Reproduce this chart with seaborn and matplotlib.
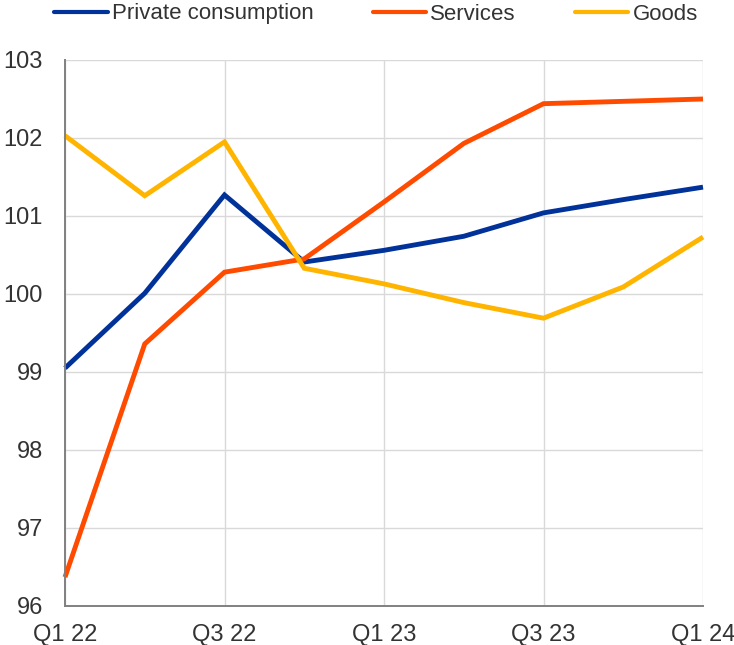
import matplotlib
matplotlib.use("Agg")
import matplotlib.pyplot as plt
import seaborn as sns
import pandas as pd
from matplotlib.lines import Line2D

quarters = ["Q1 22", "Q2 22", "Q3 22", "Q4 22", "Q1 23", "Q2 23", "Q3 23", "Q4 23", "Q1 24"]
private_consumption = [99.05, 100.01, 101.27, 100.41, 100.56, 100.74, 101.04, 101.21, 101.37]
services = [96.37, 99.36, 100.28, 100.45, 101.18, 101.93, 102.44, 102.47, 102.50]
goods = [102.03, 101.26, 101.95, 100.33, 100.13, 99.89, 99.69, 100.09, 100.73]
series_names = ["Private consumption", "Services", "Goods"]
colors = ["#003299", "#FF4B00", "#FFB400"]
y_ticks = [96, 97, 98, 99, 100, 101, 102, 103]

rows = []
for name, vals in zip(series_names, [private_consumption, services, goods]):
    for i, v in enumerate(vals):
        rows.append({"x": i, "value": v, "series": name})
df = pd.DataFrame(rows)

sns.set_theme(style="white")
plt.rcParams["font.family"] = ["Liberation Sans", "DejaVu Sans"]

fig = plt.figure(figsize=(7.34, 6.45), dpi=100)
ax = fig.add_axes([65/734, 1-606/645, (703-65)/734, (606-60)/645])

sns.lineplot(data=df, x="x", y="value", hue="series", palette=colors,
             hue_order=series_names, linewidth=3.5, ax=ax, legend=False)
for ln in ax.lines:
    ln.set_solid_capstyle("butt")
    ln.set_solid_joinstyle("miter")
    ln.set_clip_on(False)

ax.set_xlim(0, 8)
ax.set_ylim(96, 103)
ax.set_yticks(y_ticks)
ax.set_yticklabels([str(t) for t in y_ticks])
ax.set_xticks([0, 2, 4, 6, 8])
ax.set_xticklabels([quarters[i] for i in [0, 2, 4, 6, 8]])
ax.set_xlabel("")
ax.set_ylabel("")
ax.grid(True, color="#d9d9d9", linewidth=1)
ax.set_axisbelow(True)
for s in ["top", "right"]:
    ax.spines[s].set_visible(False)
for s in ["left", "bottom"]:
    ax.spines[s].set_color("#808080")
    ax.spines[s].set_linewidth(1.4)
ax.tick_params(axis="both", which="major", labelsize=17, colors="#333333",
               width=1.4, color="#808080")
ax.tick_params(axis="y", direction="in", length=5, pad=16)
ax.tick_params(axis="x", direction="out", length=5, pad=8)

handles = [Line2D([0], [0], color=c, linewidth=3, solid_capstyle="round") for c in colors]
fig.legend(handles, series_names, loc="center", bbox_to_anchor=(376/734, 1-14/645),
           ncol=3, frameon=False, fontsize=16, handlelength=2.4, handletextpad=0.2,
           columnspacing=2.65, labelcolor="#333333", borderpad=0, borderaxespad=0)

fig.savefig("out.png", dpi=100)
